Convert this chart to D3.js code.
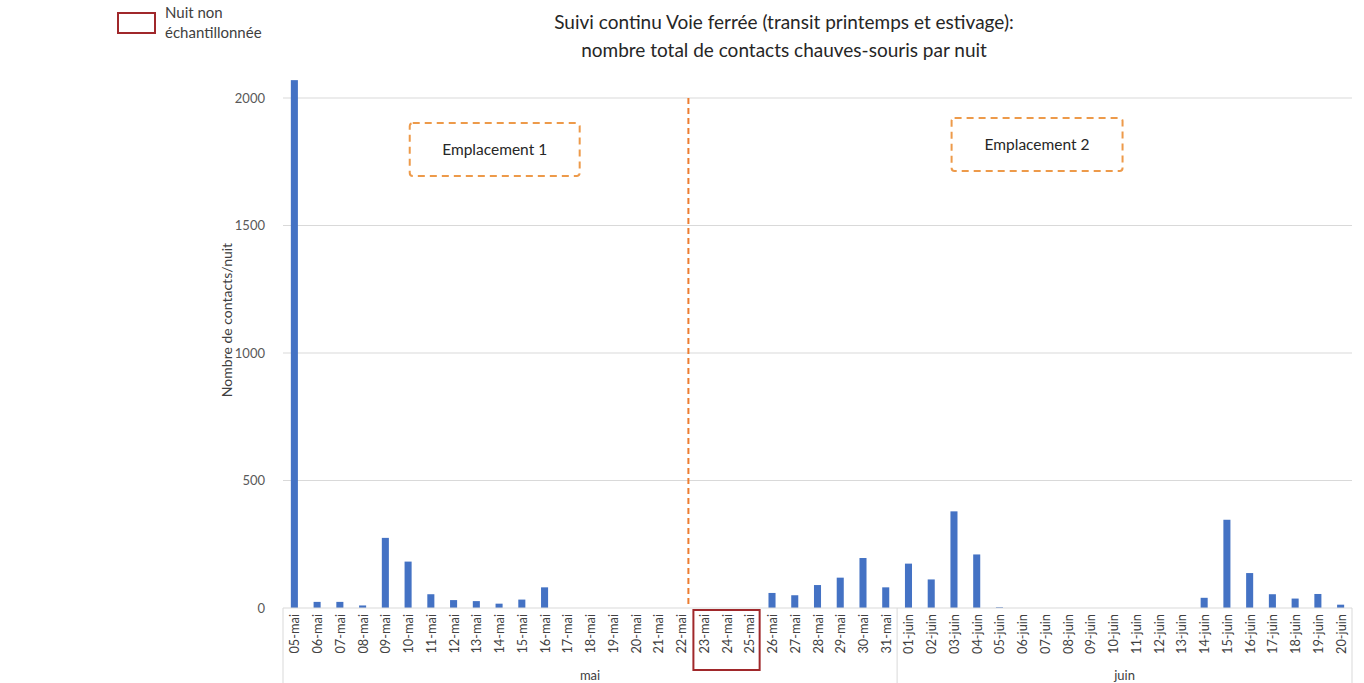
<!DOCTYPE html>
<html><head><meta charset="utf-8">
<script src="https://cdn.jsdelivr.net/npm/d3@7"></script>
<style>body{margin:0;background:#fff;} svg{display:block;font-family:Lato, "Liberation Sans", sans-serif;}</style>
</head><body>
<svg id="c" width="1364" height="683"></svg>
<script>
const categories = ["05-mai","06-mai","07-mai","08-mai","09-mai","10-mai","11-mai","12-mai","13-mai","14-mai","15-mai","16-mai","17-mai","18-mai","19-mai","20-mai","21-mai","22-mai","23-mai","24-mai","25-mai","26-mai","27-mai","28-mai","29-mai","30-mai","31-mai",
"01-juin","02-juin","03-juin","04-juin","05-juin","06-juin","07-juin","08-juin","09-juin","10-juin","11-juin","12-juin","13-juin","14-juin","15-juin","16-juin","17-juin","18-juin","19-juin","20-juin"];
const values = [2070,24,24,10,275,182,54,31,27,17,33,81,0,0,0,0,0,0,0,0,0,59,50,90,119,196,81,
174,112,379,210,3,0,0,0,0,0,0,0,0,40,346,137,54,37,55,13];
const months = [{name:"mai", first:"05-mai", last:"31-mai"},{name:"juin", first:"01-juin", last:"20-juin"}];
const yTicks = [0,500,1000,1500,2000];
const unsampled = ["23-mai","24-mai","25-mai"];
const zones = [{label:"Emplacement 1", from:"10-mai", to:"17-mai"},{label:"Emplacement 2", from:"03-juin", to:"10-juin"}];
const titleLines = ["Suivi continu Voie ferrée (transit printemps et estivage):","nombre total de contacts chauves-souris par nuit"];

const svg = d3.select("#c");
const L = 283, R = 1352, T = 98, B = 608;
const x = d3.scaleBand().domain(categories).range([L, R]).paddingInner(0.69).paddingOuter(0.345);
const step = x.step();
const slotL = c => L + categories.indexOf(c) * step;
const y = d3.scaleLinear().domain([0, 2000]).range([B, T]);

// gridlines
svg.append("g").selectAll("line").data(yTicks.filter(d => d > 0)).join("line")
  .attr("x1", L).attr("x2", R).attr("y1", d => y(d)).attr("y2", d => y(d))
  .attr("stroke", "#d9d9d9").attr("stroke-width", 1);

// y labels
svg.append("g").selectAll("text").data(yTicks).join("text")
  .attr("x", 265).attr("y", d => y(d)).attr("dy", "0.35em").attr("text-anchor", "end")
  .attr("font-size", 13).attr("fill", "#595959").text(d => d);

svg.append("text").attr("transform", `translate(232,320) rotate(-90)`)
  .attr("text-anchor", "middle").attr("font-size", 14).attr("fill", "#404040")
  .text("Nombre de contacts/nuit");

// bars
svg.append("g").selectAll("rect").data(categories).join("rect")
  .attr("x", d => x(d)).attr("width", x.bandwidth())
  .attr("y", (d, i) => y(values[i])).attr("height", (d, i) => B - y(values[i]))
  .attr("fill", "#4472C4");

// axis line
svg.append("line").attr("x1", L).attr("x2", R).attr("y1", B).attr("y2", B).attr("stroke", "#d9d9d9");

// x labels
svg.append("g").selectAll("text").data(categories).join("text")
  .attr("transform", d => `translate(${x(d) + x.bandwidth()/2},614) rotate(-90)`)
  .attr("text-anchor", "end").attr("dominant-baseline", "central")
  .attr("font-size", 12.8).attr("fill", "#404040").text(d => d);

// month separators and labels
const seps = [L, slotL("01-juin"), R];
svg.append("g").selectAll("line").data(seps).join("line")
  .attr("x1", d => d).attr("x2", d => d).attr("y1", B).attr("y2", 683)
  .attr("stroke", "#d9d9d9");
svg.append("g").selectAll("text").data(months).join("text")
  .attr("x", d => (slotL(d.first) + slotL(d.last) + step) / 2).attr("y", 680)
  .attr("text-anchor", "middle").attr("font-size", 13).attr("fill", "#404040").text(d => d.name);

// divider
const divX = slotL("23-mai") - 4;
svg.append("line").attr("x1", divX).attr("x2", divX).attr("y1", T).attr("y2", B)
  .attr("stroke", "#ED7D31").attr("stroke-width", 2).attr("stroke-dasharray", "6,4");

// unsampled box
svg.append("rect").attr("x", slotL(unsampled[0]) + 1).attr("y", 610)
  .attr("width", step * unsampled.length - 2).attr("height", 60)
  .attr("fill", "none").attr("stroke", "#A0282B").attr("stroke-width", 2);

// zone boxes
const zoneLayout = [{y:123, dl:13, dr:1}, {y:118, dl:9, dr:-2}];
zones.forEach((z, i) => {
  const lay = zoneLayout[i];
  const x0 = slotL(z.from) + lay.dl, x1 = slotL(z.to) + step + lay.dr;
  svg.append("rect").attr("x", x0).attr("y", lay.y).attr("width", x1 - x0).attr("height", 53)
    .attr("rx", 3).attr("fill", "#fff").attr("stroke", "#ED9A4A").attr("stroke-width", 2)
    .attr("stroke-dasharray", "7,5");
  svg.append("text").attr("x", (x0 + x1) / 2).attr("y", lay.y + 27).attr("dy", "0.35em")
    .attr("text-anchor", "middle").attr("font-size", 15.5).attr("fill", "#262626").text(z.label);
});

// title
svg.append("g").selectAll("text").data(titleLines).join("text")
  .attr("x", 784).attr("y", (d, i) => 29 + i * 28).attr("text-anchor", "middle")
  .attr("font-size", 19).attr("fill", "#262626").text(d => d);

// legend
svg.append("rect").attr("x", 118).attr("y", 13).attr("width", 37).attr("height", 20)
  .attr("fill", "#fff").attr("stroke", "#A0282B").attr("stroke-width", 2);
svg.append("text").attr("x", 165).attr("y", 18).attr("font-size", 15).attr("fill", "#404040").text("Nuit non");
svg.append("text").attr("x", 165).attr("y", 38).attr("font-size", 15).attr("fill", "#404040").text("échantillonnée");
</script>
</body></html>
